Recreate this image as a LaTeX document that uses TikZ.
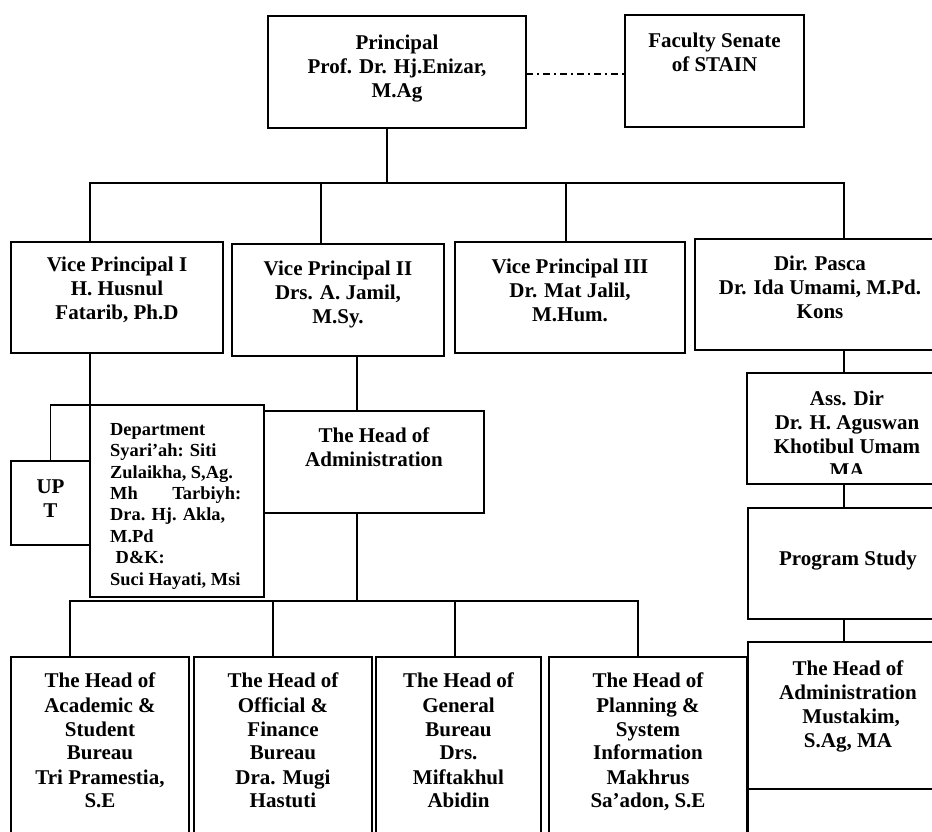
\documentclass[tikz,border=0pt]{standalone}
\usepackage{fontspec}
\setmainfont{Liberation Serif}
\usetikzlibrary{positioning}
\usetikzlibrary{calc}
\tikzstyle{unit} = [draw,rectangle,line width=1.7pt,inner sep=0pt,outer sep=0pt,anchor=north west]
\tikzstyle{unittext} = [font=\bfseries\fontsize{21}{24}\selectfont,align=center,inner sep=0pt]
\tikzstyle{depttext} = [font=\bfseries\fontsize{18.4}{21.4}\selectfont,align=flush left,text width=131pt,inner sep=0pt]
\tikzstyle{link} = [draw,line width=1.7pt,line cap=rect]
\tikzstyle{senatelink} = [draw,line width=1.2pt,dash pattern=on 7pt off 4pt on 2pt off 4pt]

\begin{document}
\begin{tikzpicture}[x=1pt,y=-1pt]

    \useasboundingbox (0,0) rectangle (932,831);
    \clip (0,0) rectangle (932,831);

    % boxes
    \foreach \pos/\w/\h/\name in {{(268,16)/258/112/principal}, {(625,15)/179/112/senate},
        {(11,242)/212/111/vp1}, {(232,244)/212/112/vp2}, {(455,242)/230/111/vp3}, {(695,239)/250/111/pasca},
        {(747,373)/200/111/assdir}, {(748,508)/200/111/prodi}, {(748,642)/200/147/adm2}, {(748,789)/200/80/adm2b},
        {(11,461)/79/84/upt}, {(90,405)/174/192/dept}, {(264,411)/220/102/adm},
        {(11,657)/178/200/acad}, {(194,657)/178/200/fin}, {(376,657)/165/200/gen}, {(549,657)/198/200/plan}}
        \node[unit,minimum width=\w pt,minimum height=\h pt] (\name) at \pos {};

    % texts
    \foreach \name/\gap/\txt in {principal/19/{Principal\\Prof. Dr. Hj.Enizar,\\M.Ag},
        senate/18/{Faculty Senate\\of STAIN},
        vp1/15/{Vice Principal I\\H. Husnul\\Fatarib, Ph.D},
        vp2/17/{Vice Principal II\\Drs. A. Jamil,\\M.Sy.},
        vp3/17/{Vice Principal III\\Dr. Mat Jalil,\\M.Hum.},
        pasca/17/{Dir. Pasca\\Dr. Ida Umami, M.Pd.\\Kons},
        prodi/43/{Program Study},
        adm2/19/{The Head of\\Administration\\\hspace*{0.3em}Mustakim,\\S.Ag, MA},
        upt/19/{UP\\T},
        adm/17/{The Head of\\Administration},
        acad/16/{The Head of\\Academic \&\\Student\\Bureau\\Tri Pramestia,\\S.E},
        fin/16/{The Head of\\Official \&\\Finance\\Bureau\\Dra. Mugi\\Hastuti},
        gen/16/{The Head of\\General\\Bureau\\Drs.\\Miftakhul\\Abidin},
        plan/16/{The Head of\\Planning \&\\System\\Information\\Makhrus\\Sa’adon, S.E}}
        \node[unittext,below=\gap pt of \name.north] (\name-t) {\txt};

    \begin{scope}
        \clip (assdir.north west) rectangle ([yshift=11pt]assdir.south east);
        \node[unittext,below=18pt of assdir.north] (assdir-t) {Ass. Dir\\Dr. H. Aguswan\\Khotibul Umam\\MA};
    \end{scope}

    \node[depttext,below right=18pt and 20pt of dept.north west] (dept-t) {Department\\Syari’ah: Siti\\Zulaikha, S,Ag.\\Mh \hfill Tarbiyh:\\Dra. Hj. Akla,\\M.Pd\\\hspace*{0.3em}D\&K:\\Suci Hayati, Msi};

    % connectors
    \path[senatelink] ([yshift=-2pt]principal.east) -- ([yshift=-2pt]principal.east -| senate.west);

    \coordinate (s0) at (387,183);
    \coordinate (s1) at (90,183);
    \coordinate (s2) at (321,183);
    \coordinate (s3) at (566,183);
    \coordinate (s4) at (844,183);
    \path[link] (s1) -- (s4);
    \path[link] (s0) -- (s0 |- principal.south);
    \foreach \s/\n in {s1/vp1, s2/vp2, s3/vp3, s4/pasca}
        \path[link] (\s) -- (\s |- \n.north);

    \path[link] (dept.north west |- vp1.south) -- (dept.north west) -| (upt.north);

    \coordinate (m) at (357,601);
    \path[link] (m |- vp2.south) -- (m |- adm.north);
    \path[link] (m |- adm.south) -- (m);

    \coordinate (b1) at (70,601);
    \coordinate (b2) at (273,601);
    \coordinate (b3) at (455,601);
    \coordinate (b4) at (638,601);
    \path[link] (b1) -- (b4);
    \foreach \b/\n in {b1/acad, b2/fin, b3/gen, b4/plan}
        \path[link] (\b) -- (\b |- \n.north);

    \path[link] (s4 |- pasca.south) -- (s4 |- assdir.north);
    \path[link] (s4 |- assdir.south) -- (s4 |- prodi.north);
    \path[link] (s4 |- prodi.south) -- (s4 |- adm2.north);

\end{tikzpicture}
\end{document}
